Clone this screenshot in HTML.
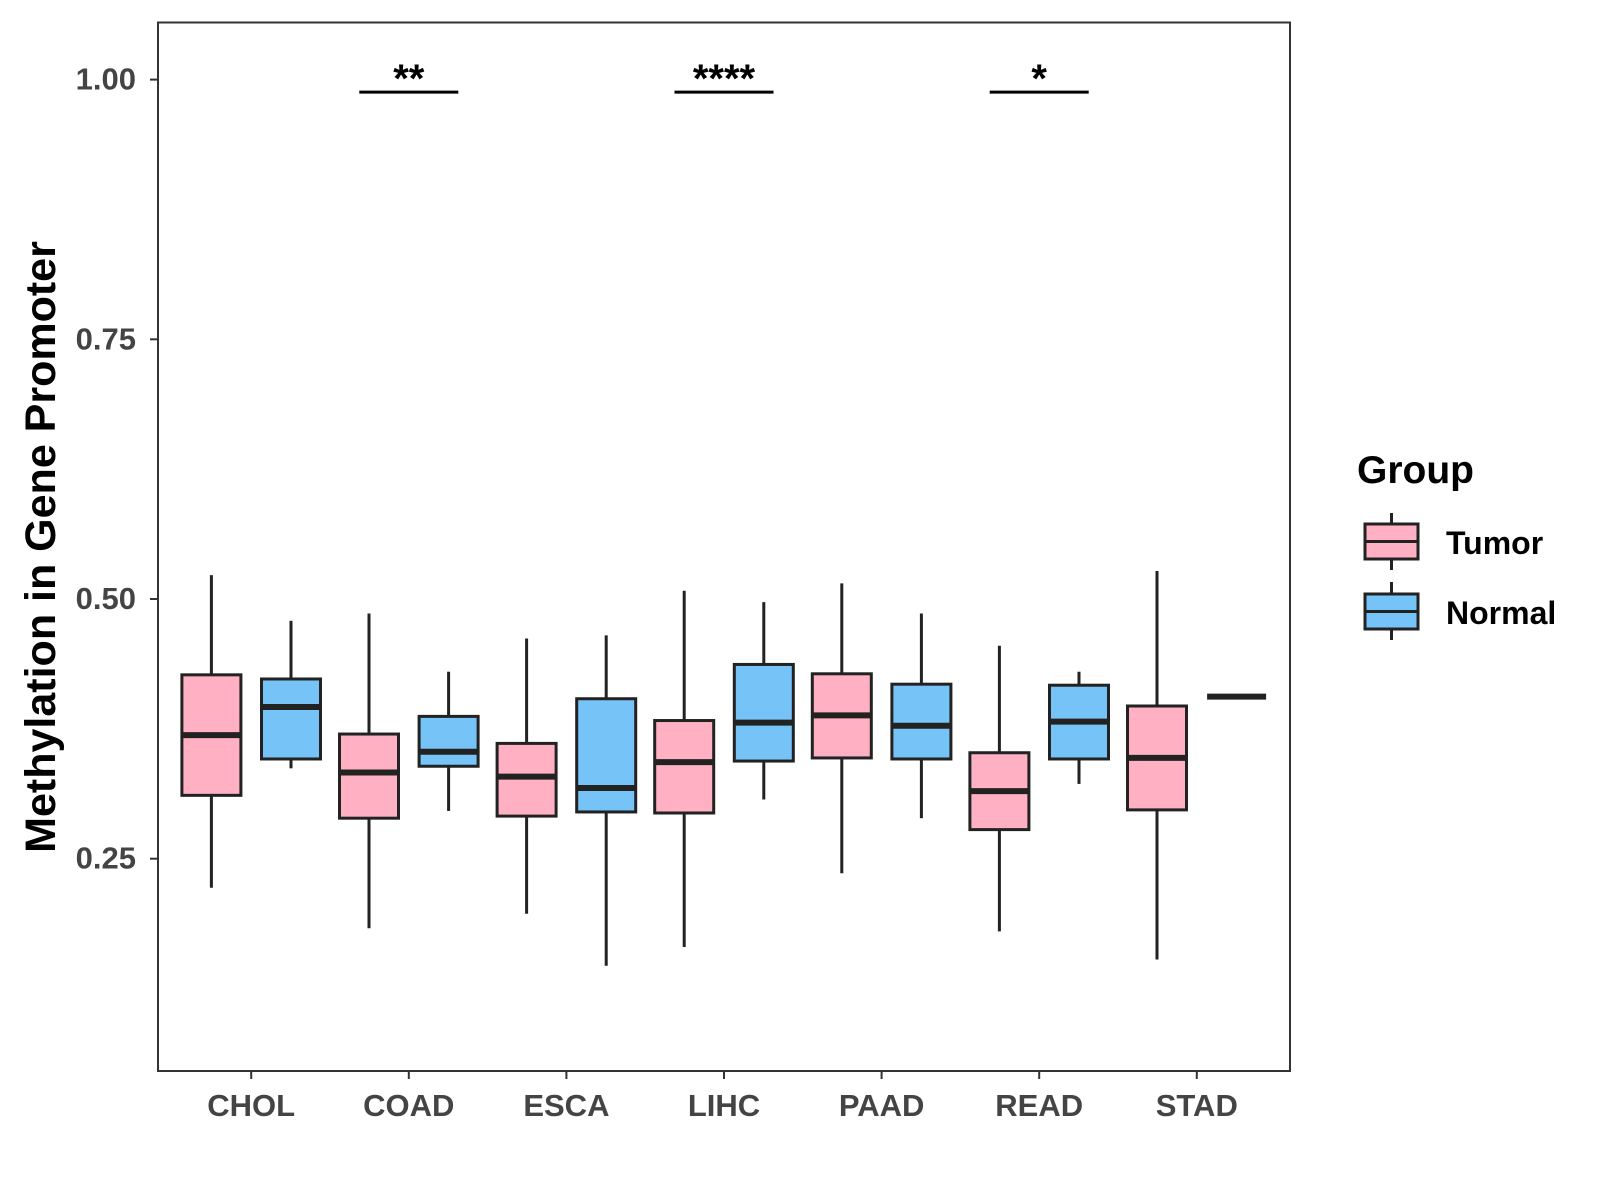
<!DOCTYPE html>
<html><head><meta charset="utf-8"><style>
html,body{margin:0;padding:0;background:#fff}
svg{display:block;font-family:"Liberation Sans",sans-serif}
</style></head><body>
<svg id="chart" width="1600" height="1200" xmlns="http://www.w3.org/2000/svg">
<rect x="0" y="0" width="1600" height="1200" fill="#fff"/>
<g id="marks"></g>
<rect x="158" y="22.5" width="1132" height="1048.5" fill="none" stroke="#333" stroke-width="2"/>
<g id="axes"></g>
<text transform="translate(55,547) rotate(-90)" text-anchor="middle" font-size="43" font-weight="bold" fill="#000">Methylation in Gene Promoter</text>
<g>
<text x="1357" y="483" font-size="39" font-weight="bold" fill="#000">Group</text>
<g>
<line x1="1391.5" y1="513" x2="1391.5" y2="570" stroke="#222" stroke-width="3"/>
<rect x="1365" y="524" width="53" height="35" fill="#FFB1C3" stroke="#222" stroke-width="3"/>
<line x1="1365" y1="541.5" x2="1418" y2="541.5" stroke="#222" stroke-width="3"/>
<text x="1446" y="554" font-size="32" font-weight="bold" fill="#000">Tumor</text>
</g>
<g>
<line x1="1391.5" y1="582" x2="1391.5" y2="640" stroke="#222" stroke-width="3"/>
<rect x="1365" y="594" width="53" height="35" fill="#76C3F8" stroke="#222" stroke-width="3"/>
<line x1="1365" y1="611.5" x2="1418" y2="611.5" stroke="#222" stroke-width="3"/>
<text x="1446" y="624" font-size="32" font-weight="bold" fill="#000">Normal</text>
</g>
</g>
</svg>
<script>
const categories = ["CHOL","COAD","ESCA","LIHC","PAAD","READ","STAD"];
// [upper whisker, q3, median, q1, lower whisker]
const tumorStats = [
 [0.523,0.427,0.369,0.311,0.222],
 [0.486,0.370,0.333,0.289,0.183],
 [0.462,0.361,0.329,0.291,0.197],
 [0.508,0.383,0.343,0.294,0.165],
 [0.515,0.428,0.388,0.347,0.236],
 [0.455,0.352,0.315,0.278,0.180],
 [0.527,0.397,0.347,0.297,0.153]
];
const normalStats = [
 [0.479,0.423,0.396,0.346,0.337],
 [0.430,0.387,0.353,0.339,0.296],
 [0.465,0.404,0.318,0.295,0.147],
 [0.497,0.437,0.381,0.344,0.307],
 [0.486,0.418,0.378,0.346,0.289],
 [0.430,0.417,0.382,0.346,0.322],
 [0.406,0.406,0.406,0.406,0.406]
];
const yTicks = [0.25,0.5,0.75,1.0];
const yTickLabels = ["0.25","0.50","0.75","1.00"];
const sigCategories = ["COAD","LIHC","READ"];
const sigLabels = ["**","****","*"];
const sigY = 0.988;

const NS="http://www.w3.org/2000/svg";
const y = v => 79.6 + (1 - v) * 1038.8;
const x = i => 251.2 + i * 157.6;
const marks=document.getElementById('marks'), axes=document.getElementById('axes');
function mk(tag, attrs, parent){const e=document.createElementNS(NS,tag);for(const k in attrs)e.setAttribute(k,attrs[k]);parent.appendChild(e);return e;}

function drawBox(cx, s, fill, name){
  const g=mk('g',{},marks);
  
  
  const w=59, st={stroke:'#222','stroke-width':3};
  mk('line',Object.assign({x1:cx,x2:cx,y1:y(s[0]),y2:y(s[1])},st),g);
  mk('line',Object.assign({x1:cx,x2:cx,y1:y(s[3]),y2:y(s[4])},st),g);
  mk('rect',Object.assign({x:cx-w/2,y:y(s[1]),width:w,height:Math.max(0,y(s[3])-y(s[1])),fill:fill},st),g);
  mk('line',{x1:cx-w/2,x2:cx+w/2,y1:y(s[2]),y2:y(s[2]),stroke:'#222','stroke-width':6},g);
}
categories.forEach((c,i)=>{
  drawBox(x(i)-39.8, tumorStats[i], '#FFB1C3', 'box-tumor-'+c.toLowerCase());
  drawBox(x(i)+39.8, normalStats[i], '#76C3F8', 'box-normal-'+c.toLowerCase());
  const t=mk('line',{x1:x(i),x2:x(i),y1:1071,y2:1079,stroke:'#333','stroke-width':2},axes);
  
  
  const l=mk('text',{x:x(i),y:1116,'text-anchor':'middle','font-size':31,'font-weight':'bold',fill:'#444'},axes);
  l.textContent=c;
  
  
});
yTicks.forEach((v,i)=>{
  const t=mk('line',{x1:150,x2:158,y1:y(v),y2:y(v),stroke:'#333','stroke-width':2},axes);
  
  
  const l=mk('text',{x:136,y:y(v)+10,'text-anchor':'end','font-size':31,'font-weight':'bold',fill:'#444'},axes);
  l.textContent=yTickLabels[i];
  
  
});
sigCategories.forEach((c,j)=>{
  const i=categories.indexOf(c);
  const ln=mk('line',{x1:x(i)-49.5,x2:x(i)+49.5,y1:y(sigY),y2:y(sigY),stroke:'#000','stroke-width':3},marks);
  
  
  const tx=mk('text',{x:x(i),y:y(sigY),'text-anchor':'middle','font-size':40,'font-weight':'bold',fill:'#000'},marks);
  tx.textContent=sigLabels[j];
  
  
});
</script>
</body></html>
